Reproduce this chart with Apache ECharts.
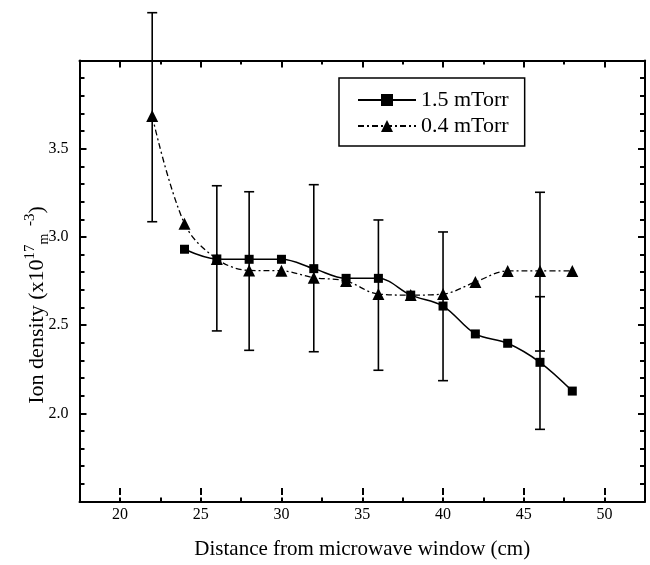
<!DOCTYPE html>
<html>
<head>
<meta charset="utf-8">
<script src="https://cdn.jsdelivr.net/npm/echarts@6/dist/echarts.min.js"></script>
<style>
html,body{margin:0;padding:0;background:#fff;}
#chart{width:650px;height:565px;}
</style>
</head>
<body>
<div id="chart"></div>
<script>
// ---- data ----
const seriesNames = ['1.5 mTorr', '0.4 mTorr'];
const distance15 = [24, 26, 28, 30, 32, 34, 36, 38, 40, 42, 44, 46, 48];
const density15 = [2.93, 2.875, 2.873, 2.873, 2.82, 2.765, 2.765, 2.67, 2.608, 2.45, 2.397, 2.289, 2.126];
const distance04 = [22, 24, 26, 28, 30, 32, 34, 36, 38, 40, 42, 44, 46, 48];
const density04 = [3.685, 3.075, 2.875, 2.81, 2.808, 2.769, 2.75, 2.676, 2.67, 2.676, 2.744, 2.807, 2.807, 2.807];
const errX = [22, 26, 28, 32, 36, 40, 46, 46];
const errLow = [3.086, 2.467, 2.357, 2.349, 2.244, 2.185, 2.353, 1.909];
const errHigh = [4.271, 3.29, 3.256, 3.296, 3.096, 3.028, 3.253, 2.661];
const xTitle = 'Distance from microwave window (cm)';

// ---- layout ----
const W = 650, H = 565;
const plotLeft = 79.5, plotRight = 645, plotTop = 60.5, plotBottom = 501.5;
const xMin = 17.5, xMax = 52.5, yMin = 1.5, yMax = 4.0;
const pxPerX = (plotRight - plotLeft) / (xMax - xMin);
const majorLeft = plotLeft + (20 - xMin) * pxPerX;
const majorRight = plotLeft + (50 - xMin) * pxPerX;
const FONT = '"Liberation Serif", "Times New Roman", serif';

const chart = echarts.init(document.getElementById('chart'), null, {renderer: 'canvas'});

const axisLineStyle = {color: '#000', width: 2};

const option = {
  animation: false,
  backgroundColor: '#fff',
  grid: [
    {left: plotLeft, right: W - plotRight, top: plotTop, bottom: H - plotBottom},
    {left: majorLeft, right: W - majorRight, top: plotTop, bottom: H - plotBottom}
  ],
  legend: {
    orient: 'vertical',
    left: 339, top: 78,
    data: seriesNames,
    itemWidth: 58, itemHeight: 15, itemGap: 4,
    padding: [11, 16, 9, 18],
    borderColor: '#000', borderWidth: 1.5,
    textStyle: {fontFamily: FONT, fontSize: 22, color: '#000'},
    selectedMode: false
  },
  xAxis: [
    {gridIndex: 0, type: 'value', min: xMin, max: xMax, interval: 2.5, position: 'bottom',
     axisLine: {show: true, lineStyle: axisLineStyle}, axisTick: {inside: true, length: 4, lineStyle: {color: '#000', width: 2}},
     axisLabel: {show: false}, splitLine: {show: false}},
    {gridIndex: 0, type: 'value', min: xMin, max: xMax, interval: 2.5, position: 'top',
     axisLine: {show: true, lineStyle: axisLineStyle}, axisTick: {inside: true, length: 4, lineStyle: {color: '#000', width: 2}},
     axisLabel: {show: false}, splitLine: {show: false}},
    {gridIndex: 1, type: 'value', min: 20, max: 50, interval: 5, position: 'bottom',
     axisLine: {show: false}, axisTick: {show: true, inside: true, length: 7, lineStyle: {color: '#000', width: 2}},
     axisLabel: {show: true, margin: 12, fontFamily: FONT, fontSize: 16, color: '#000'},
     splitLine: {show: false},
     name: xTitle, nameLocation: 'middle', nameGap: 44,
     nameTextStyle: {fontFamily: FONT, fontSize: 21, color: '#000'}},
    {gridIndex: 1, type: 'value', min: 20, max: 50, interval: 5, position: 'top',
     axisLine: {show: false}, axisTick: {show: true, inside: true, length: 7, lineStyle: {color: '#000', width: 2}},
     axisLabel: {show: false}, splitLine: {show: false}}
  ],
  yAxis: [
    {gridIndex: 0, type: 'value', min: yMin, max: yMax, interval: 0.5, position: 'left',
     axisLine: {show: true, lineStyle: axisLineStyle},
     axisTick: {inside: true, length: 7, lineStyle: {color: '#000', width: 2}},
     minorTick: {show: true, splitNumber: 5, length: 5, lineStyle: {color: '#000', width: 2}},
     axisLabel: {show: true, margin: 11, fontFamily: FONT, fontSize: 16, color: '#000',
       showMinLabel: false, showMaxLabel: false,
       formatter: v => v.toFixed(1)},
     splitLine: {show: false}, minorSplitLine: {show: false}},
    {gridIndex: 0, type: 'value', min: yMin, max: yMax, interval: 0.5, position: 'right',
     axisLine: {show: true, lineStyle: axisLineStyle},
     axisTick: {inside: true, length: 7, lineStyle: {color: '#000', width: 2}},
     minorTick: {show: true, splitNumber: 5, length: 5, lineStyle: {color: '#000', width: 2}},
     axisLabel: {show: false}, splitLine: {show: false}, minorSplitLine: {show: false}},
    {gridIndex: 1, type: 'value', min: yMin, max: yMax, show: false}
  ],
  graphic: [
    {type: 'text', x: 37, y: 305, rotation: Math.PI / 2,
     style: {
       text: 'Ion density (x10{sup|17}{sub|m}{sup|  -3}{base|)}',
       rich: {
         sup: {fontFamily: FONT, fontSize: 15, verticalAlign: 'top', lineHeight: 28, fill: '#000'},
         sub: {fontFamily: FONT, fontSize: 14, verticalAlign: 'bottom', lineHeight: 28, fill: '#000'},
         base: {fontFamily: FONT, fontSize: 22, lineHeight: 28, fill: '#000'}
       },
       fontFamily: FONT, fontSize: 22, lineHeight: 28, fill: '#000',
       align: 'center', verticalAlign: 'middle'
     }}
  ],
  series: [
    {
      name: seriesNames[0], type: 'line', xAxisIndex: 0, yAxisIndex: 0,
      data: distance15.map((x, i) => [x, density15[i]]),
      smooth: 0.35, symbol: 'rect', symbolSize: 9,
      lineStyle: {color: '#000', width: 1.5},
      itemStyle: {color: '#000'}, z: 3
    },
    {
      name: seriesNames[1], type: 'line', xAxisIndex: 0, yAxisIndex: 0,
      data: distance04.map((x, i) => [x, density04[i]]),
      smooth: 0.35, symbol: 'triangle', symbolSize: 12,
      lineStyle: {color: '#000', width: 1.3, type: [6, 3, 2, 3]},
      itemStyle: {color: '#000'}, z: 3
    },
    {
      type: 'custom', xAxisIndex: 0, yAxisIndex: 0, clip: false, z: 2,
      data: errX.map((x, i) => [x, errLow[i], errHigh[i]]),
      encode: {x: 0, y: [1, 2]},
      renderItem: function (params, api) {
        const x = api.value(0), lo = api.value(1), hi = api.value(2);
        const p1 = api.coord([x, lo]), p2 = api.coord([x, hi]);
        const cap = 5;
        const st = {stroke: '#000', lineWidth: 1.6};
        return {type: 'group', children: [
          {type: 'line', shape: {x1: p1[0], y1: p1[1], x2: p2[0], y2: p2[1]}, style: st},
          {type: 'line', shape: {x1: p1[0] - cap, y1: p1[1], x2: p1[0] + cap, y2: p1[1]}, style: st},
          {type: 'line', shape: {x1: p2[0] - cap, y1: p2[1], x2: p2[0] + cap, y2: p2[1]}, style: st}
        ]};
      }
    }
  ]
};
chart.setOption(option);
</script>
</body>
</html>
